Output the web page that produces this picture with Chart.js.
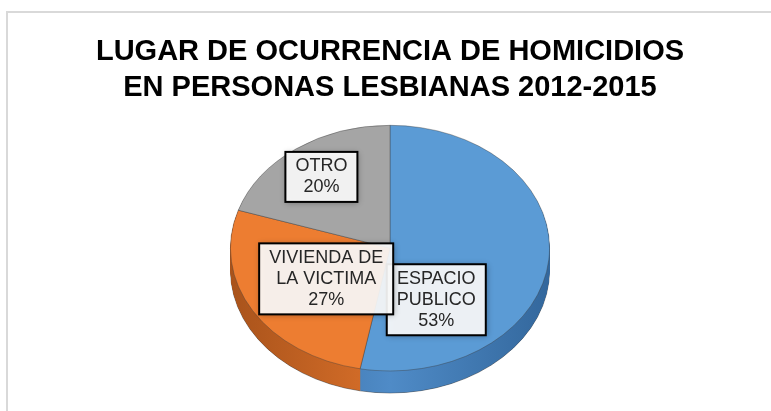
<!DOCTYPE html>
<html>
<head>
<meta charset="utf-8">
<script src="https://cdn.jsdelivr.net/npm/chart.js@4"></script>
<style>
html, body { margin: 0; padding: 0; background: #fff; overflow: hidden; width: 771px; height: 411px; }
#frame { position: absolute; left: 6px; top: 11px; width: 800px; height: 500px; border-left: 2px solid #d9d9d9; border-top: 2px solid #d9d9d9; }
#chart { position: absolute; left: 0; top: 0; }
</style>
</head>
<body>
<div id="frame"></div>
<canvas id="chart" width="771" height="445"></canvas>
<script>
const titleLines = ['LUGAR DE OCURRENCIA DE HOMICIDIOS', 'EN PERSONAS LESBIANAS 2012-2015'];
const categories = ['ESPACIO PUBLICO', 'VIVIENDA DE LA VICTIMA', 'OTRO'];
const labelLines = [['ESPACIO', 'PUBLICO'], ['VIVIENDA DE', 'LA VICTIMA'], ['OTRO']];
const percentages = [53, 27, 20];

const topColors = ['#5b9bd5', '#ed7d31', '#a5a5a5'];
const sideColors = ['#4f8bc7', '#d9702a', '#8f8f8f'];
const sideEdgeColors = ['#33679c', '#a9531b', '#6e6e6e'];

// where each label box sits, as a fraction of the radius from the pie centre
const labelAnchors = [[0.29, 0.42], [-0.40, 0.25], [-0.43, -0.58]];

const squash = 0.77;   // vertical tilt of the pie
const depth = 22;      // thickness of the pie side, screen px

const ctx = document.getElementById('chart').getContext('2d');

// draws the pie tilted, with a thick side under it
const tiltPlugin = {
    id: 'tilt',
    beforeDatasetsDraw(chart) {
        const c = chart.ctx;
        const top = chart.chartArea.top;
        const arcs = chart.getDatasetMeta(0).data;
        c.save();
        c.translate(0, top);
        c.scale(1, squash);
        c.translate(0, -top);

        for (let d = depth; d > 0; d -= 0.5) {
            arcs.forEach((arc, i) => {
                const p = arc.getProps(['x', 'y', 'startAngle', 'endAngle', 'outerRadius']);
                const g = c.createLinearGradient(p.x - p.outerRadius, 0, p.x + p.outerRadius, 0);
                g.addColorStop(0, sideEdgeColors[i]);
                g.addColorStop(0.5, sideColors[i]);
                g.addColorStop(1, sideEdgeColors[i]);
                c.beginPath();
                c.moveTo(p.x, p.y + d / squash);
                c.arc(p.x, p.y + d / squash, p.outerRadius, p.startAngle, p.endAngle);
                c.closePath();
                c.fillStyle = g;
                c.fill();
                if (d === depth) {
                    c.beginPath();
                    c.arc(p.x, p.y + d / squash, p.outerRadius, p.startAngle, p.endAngle);
                    c.strokeStyle = 'rgba(0,0,0,0.45)';
                    c.lineWidth = 1;
                    c.stroke();
                }
            });
        }
    },
    afterDatasetsDraw(chart) {
        const c = chart.ctx;
        c.restore();

        const arcs = chart.getDatasetMeta(0).data;
        const top = chart.chartArea.top;
        const p = arcs[0].getProps(['x', 'y', 'outerRadius']);
        const cx = p.x;
        const cy = top + (p.y - top) * squash;
        const rx = p.outerRadius;
        const ry = p.outerRadius * squash;

        c.save();
        c.font = '18px "Liberation Sans", Arial, sans-serif';
        c.textAlign = 'center';
        c.textBaseline = 'middle';
        const lineH = 21;
        labelLines.forEach((lines, i) => {
            const text = lines.concat([percentages[i] + '%']);
            const w = Math.max(...text.map(t => c.measureText(t).width)) + 20;
            const h = text.length * lineH + 8;
            const bx = cx + labelAnchors[i][0] * rx;
            const by = cy + labelAnchors[i][1] * ry;
            c.save();
            c.shadowColor = 'rgba(0,0,0,0.35)';
            c.shadowBlur = 6;
            c.shadowOffsetX = 1;
            c.shadowOffsetY = 1;
            c.fillStyle = 'rgba(255,255,255,0.9)';
            c.fillRect(bx - w / 2, by - h / 2, w, h);
            c.restore();
            c.strokeStyle = '#000';
            c.lineWidth = 2;
            c.strokeRect(bx - w / 2, by - h / 2, w, h);
            c.fillStyle = '#262626';
            text.forEach((t, k) => {
                c.fillText(t, bx, by - h / 2 + 4 + lineH * (k + 0.5));
            });
        });
        c.restore();
    }
};

new Chart(ctx, {
    type: 'pie',
    data: {
        labels: categories,
        datasets: [{
            data: percentages,
            backgroundColor: topColors,
            borderColor: 'rgba(60,60,60,0.45)',
            borderWidth: 1,
            hoverOffset: 0
        }]
    },
    options: {
        responsive: false,
        animation: false,
        layout: { padding: { left: 9, right: 0, top: 0, bottom: 0 } },
        plugins: {
            legend: { display: false },
            tooltip: { enabled: false },
            title: {
                display: true,
                text: titleLines,
                color: '#000',
                font: { family: '"Liberation Sans", Arial, sans-serif', size: 29, weight: 'bold', lineHeight: 1.24 },
                padding: { top: 34, bottom: 19 }
            }
        }
    },
    plugins: [tiltPlugin]
});
</script>
</body>
</html>
